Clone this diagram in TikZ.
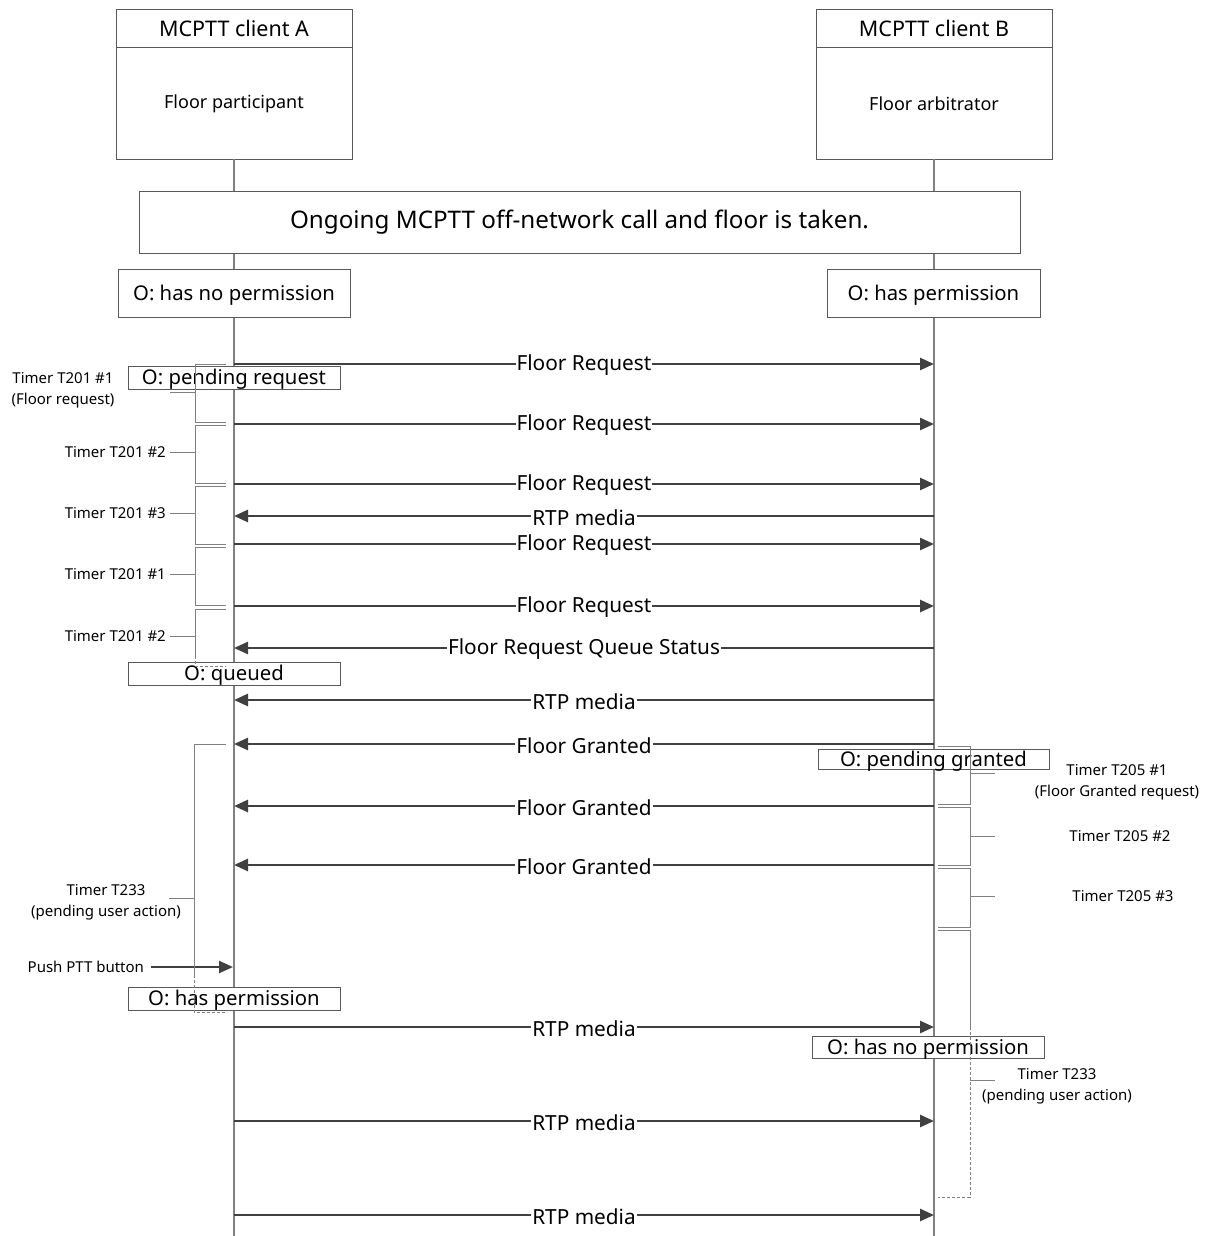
\documentclass[tikz,border=0pt]{standalone}
\usepackage{fontspec}
\setmainfont{Noto Sans}
\usetikzlibrary{arrows.meta}
\definecolor{ln}{HTML}{808080}
\definecolor{bx}{HTML}{595959}
\definecolor{ar}{HTML}{404040}
\begin{document}
\begin{tikzpicture}[x=1pt,y=-1pt,
  life/.style={draw=ln, line width=1.2pt},
  box/.style={draw=bx, line width=0.9pt, fill=white, inner sep=0pt},
  sbox/.style={draw=bx, line width=0.9pt, fill=white, inner sep=0pt, text height=16pt, text depth=2pt, font=\fontsize{20.3}{24}\selectfont},
  msg/.style={draw=ar, line width=2.6pt, -{Triangle[length=14pt,width=12pt]}},
  lbl/.style={fill=white, inner sep=1pt, yshift=-1.5pt, font=\fontsize{20.8}{24}\selectfont, text=black},
  brk/.style={draw=ln, line width=0.9pt},
  dbrk/.style={draw=ln, line width=0.9pt, dash pattern=on 3pt off 2pt},
  tlbl/.style={font=\fontsize{15}{21}\selectfont, align=center, inner sep=0pt}
]
\useasboundingbox (0,0) rectangle (1206,1236);

% header boxes
\node[box, minimum width=236pt, minimum height=150pt] (A) at (234,84) {};
\node[box, minimum width=236pt, minimum height=150pt] (B) at (934,84) {};
\coordinate (Aend) at (234,1236);
\coordinate (Bend) at (934,1236);
\draw[life] (A.south) -- (Aend);
\draw[life] (B.south) -- (Bend);
\draw[draw=bx, line width=0.9pt] (A.west |- 0,47) coordinate (Adl) -- (A.east |- 0,47) coordinate (Adr);
\draw[draw=bx, line width=0.9pt] (B.west |- 0,47) coordinate (Bdl) -- (B.east |- 0,47) coordinate (Bdr);
\node[font=\fontsize{21.5}{24}\selectfont] (At) at (234,28) {MCPTT client A};
\node[font=\fontsize{21.5}{24}\selectfont] (Bt) at (934,28) {MCPTT client B};
\node[font=\fontsize{18}{20}\selectfont] (Ar) at (234,104) {Floor participant};
\node[font=\fontsize{18}{20}\selectfont] (Br) at (934,104) {Floor arbitrator};

% ongoing
\node[box, minimum width=881pt, minimum height=62pt, font=\fontsize{24.2}{28}\selectfont] (ong) at (579.5,222) {Ongoing MCPTT off-network call and floor is taken.};

% states
\node[sbox, minimum width=232pt, minimum height=48pt] (sA0) at (234,293) {O: has no permission};
\node[sbox, minimum width=213pt, minimum height=48pt] (sB0) at (933.5,293) {O: has permission};

\node[sbox, minimum width=212pt, minimum height=23pt] (sA1) at (234,377.5) {O: pending request};
\node[sbox, minimum width=212pt, minimum height=23pt] (sA2) at (234,673.5) {O: queued};
\node[sbox, minimum width=212pt, minimum height=23pt] (sA3) at (234,998.5) {O: has permission};
\node[sbox, minimum width=231pt, minimum height=20pt] (sB1) at (933.5,759) {O: pending granted};
\node[sbox, minimum width=232pt, minimum height=22pt] (sB2) at (928,1047) {O: has no permission};

% messages
\foreach \n/\y in {1/364,2/424,3/484,4/516,5/544,6/606,7/648,8/700,9/744,10/806,11/865,13/1027,14/1121,15/1215}{
  \coordinate (a\n) at (234,\y); \coordinate (b\n) at (934,\y);}
\draw[msg] (a1) -- node[lbl]{Floor Request} (b1);
\draw[msg] (a2) -- node[lbl]{Floor Request} (b2);
\draw[msg] (a3) -- node[lbl]{Floor Request} (b3);
\draw[msg] (b4) -- node[lbl]{RTP media} (a4);
\draw[msg] (a5) -- node[lbl]{Floor Request} (b5);
\draw[msg] (a6) -- node[lbl]{Floor Request} (b6);
\draw[msg] (b7) -- node[lbl]{Floor Request Queue Status} (a7);
\draw[msg] (b8) -- node[lbl]{RTP media} (a8);
\draw[msg] (b9) -- node[lbl]{Floor Granted} (a9);
\draw[msg] (b10) -- node[lbl]{Floor Granted} (a10);
\draw[msg] (b11) -- node[lbl]{Floor Granted} (a11);
\draw[msg] (a13) -- node[lbl]{RTP media} (b13);
\draw[msg] (a14) -- node[lbl]{RTP media} (b14);
\draw[msg] (a15) -- node[lbl]{RTP media} (b15);

% push PTT
\node[tlbl, anchor=east, outer sep=7pt] (push) at (151,967) {Push PTT button};
\coordinate (pt) at (233,967);
\draw[msg, line width=2.3pt] (push.east) -- (pt);

% left brackets
\foreach \t/\b in {364/422,425/483,486/544,547/605}{
  \draw[brk] (226,\t) -- (195,\t) -- (195,\b) -- (226,\b);}
\draw[brk] (226,609) -- (195,609) -- (195,656);
\draw[dbrk] (195,656) -- (195,666) -- (226,666);
\draw[brk] (226,744) -- (194,744) -- (194,975);
\draw[dbrk] (194,975) -- (194,1012) -- (226,1012);

% left ticks and labels
\node[tlbl] (tl1) at (63,390) {Timer T201 \#1\\(Floor request)};
\node[tlbl, anchor=east] (tl2) at (166,452) {Timer T201 \#2};
\node[tlbl, anchor=east] (tl3) at (166,513) {Timer T201 \#3};
\node[tlbl, anchor=east] (tl4) at (166,574) {Timer T201 \#1};
\node[tlbl, anchor=east] (tl5) at (166,636) {Timer T201 \#2};
\node[tlbl] (tl6) at (106,902) {Timer T233\\(pending user action)};
\draw[brk] (170,392) -- (195,392);
\draw[brk] (tl2.east) ++(4,0) -- (195,452);
\draw[brk] (tl3.east) ++(4,0) -- (195,513);
\draw[brk] (tl4.east) ++(4,0) -- (195,574);
\draw[brk] (tl5.east) ++(4,0) -- (195,636);
\draw[brk] (169,898) -- (194,898);

% right brackets
\foreach \t/\b in {746/804,807/865,868/927}{
  \draw[brk] (938,\t) -- (970,\t) -- (970,\b) -- (938,\b);}
\draw[brk] (938,930) -- (970,930) -- (970,1027);
\draw[dbrk] (970,1027) -- (970,1197) -- (938,1197);

\node[tlbl] (tr1) at (1117,782) {Timer T205 \#1\\(Floor Granted request)};
\node[tlbl] (tr2) at (1120,836) {Timer T205 \#2};
\node[tlbl] (tr3) at (1123,896) {Timer T205 \#3};
\node[tlbl] (tr4) at (1057,1086) {Timer T233\\(pending user action)};
\draw[brk] (970,773) -- (995,773);
\draw[brk] (970,836) -- (995,836);
\draw[brk] (970,896) -- (995,896);
\draw[brk] (970,1080) -- (995,1080);
\end{tikzpicture}
\end{document}
